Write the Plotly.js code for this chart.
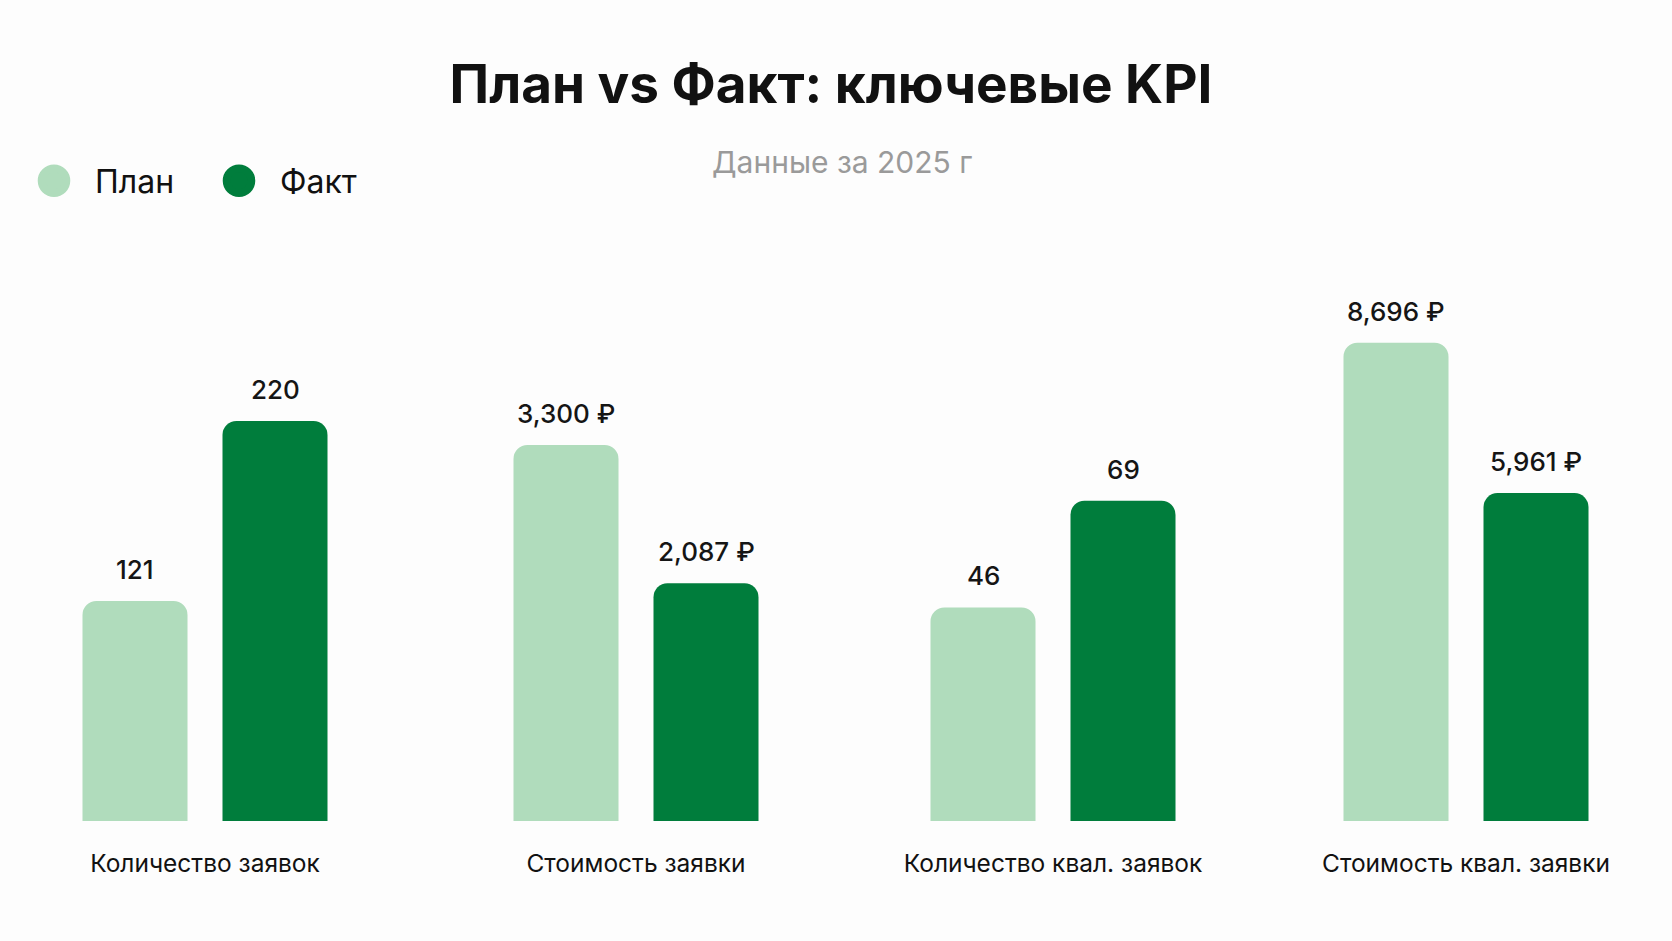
<!DOCTYPE html>
<html>
<head>
<meta charset="utf-8">
<script src="https://cdn.plot.ly/plotly-3.0.1.min.js"></script>
<style>
  html, body { margin: 0; padding: 0; background: #fdfdfd; }
  #chart { width: 1672px; height: 941px; }
</style>
</head>
<body>
<div id="chart"></div>
<script>
// données du graphique
var metrics = ['Количество заявок', 'Стоимость заявки', 'Количество квал. заявок', 'Стоимость квал. заявки'];
var planValues = [121, 3300, 46, 8696];
var factValues = [220, 2087, 69, 5961];
var valueSuffix = ['', ' ₽', '', ' ₽'];
var seriesNames = ['План', 'Факт'];

// style
var W = 1672;
var colors = ['#b0dcbc', '#007d3c'];
var fontFamily = 'Inter, "Noto Sans", sans-serif';
var groupCenters = [205, 636, 1053, 1466];   // px
var groupWidth = 280;                         // px
var yMax = [314, 5010, 123, 10380];           // échelle propre à chaque groupe

function fmt(v, suffix)
{
	return v.toLocaleString('en-US') + suffix;
}

var traces = [];
var annotations = [];
var layout = {
	width: 1672,
	height: 941,
	paper_bgcolor: '#fdfdfd',
	plot_bgcolor: '#fdfdfd',
	margin: {l: 0, r: 0, t: 250, b: 120},
	barmode: 'overlay',
	bargap: 0.25,
	showlegend: true,
	font: {family: fontFamily, color: '#111111'},
	title: {
		text: 'План vs Факт: ключевые KPI',
		font: {family: fontFamily, size: 53, weight: 700, color: '#111111'},
		x: 0.497, xanchor: 'center',
		y: 1 - 84/941, yanchor: 'middle', yref: 'container'
	},
	legend: {
		orientation: 'h',
		x: 13/W, xanchor: 'left',
		y: (821 - 181)/571, yanchor: 'middle',
		itemwidth: 72,
		entrywidth: 98,
		font: {family: fontFamily, size: 32, color: '#111111'},
		itemclick: false, itemdoubleclick: false,
		bgcolor: 'rgba(0,0,0,0)'
	}
};

for (var i = 0; i < metrics.length; i++)
{
	var sfx = i === 0 ? '' : String(i + 1);
	var xa = 'x' + sfx;
	var ya = 'y' + sfx;
	var values = [planValues[i], factValues[i]];

	for (var s = 0; s < 2; s++)
	{
		traces.push({
			type: 'bar',
			x: [seriesNames[s]],
			y: [values[s]],
			name: seriesNames[s],
			xaxis: xa,
			yaxis: ya,
			showlegend: false,
			marker: {color: colors[s], cornerradius: 14},
			hovertemplate: metrics[i] + '<br>' + seriesNames[s] + ': ' + fmt(values[s], valueSuffix[i]) + '<extra></extra>'
		});
		annotations.push({
			xref: xa, yref: ya,
			x: seriesNames[s], y: values[s],
			text: fmt(values[s], valueSuffix[i]),
			showarrow: false,
			yanchor: 'bottom',
			yshift: 14,
			font: {family: fontFamily, size: 26, weight: 500, color: '#151515'}
		});
	}

	var c = groupCenters[i];
	layout['xaxis' + sfx] = {
		domain: [(c - groupWidth/2)/W, (c + groupWidth/2)/W],
		anchor: ya,
		type: 'category',
		categoryarray: seriesNames,
		showticklabels: false,
		showgrid: false, zeroline: false, showline: false, ticks: '',
		fixedrange: true,
		title: {text: metrics[i], font: {family: fontFamily, size: 24.5, color: '#111111'}, standoff: 33}
	};
	layout['yaxis' + sfx] = {
		anchor: xa,
		range: [0, yMax[i]],
		visible: false,
		fixedrange: true
	};
}

// légende avec des pastilles rondes
for (var s = 0; s < 2; s++)
{
	traces.push({
		type: 'scatter',
		mode: 'markers',
		x: [null], y: [null],
		name: seriesNames[s],
		marker: {color: colors[s], size: 16, symbol: 'circle', line: {color: colors[s], width: 5}},
		hoverinfo: 'skip'
	});
}

// sous-titre
annotations.push({
	xref: 'paper', yref: 'paper',
	x: 842/W, y: (821 - 162)/571,
	xanchor: 'center', yanchor: 'middle',
	text: 'Данные за 2025 г',
	showarrow: false,
	font: {family: fontFamily, size: 30, color: '#9a9a9a'}
});

layout.annotations = annotations;

var gd = document.getElementById('chart');

// les pastilles de la légende sont plafonnées à 16px : on les agrandit
function agrandirPastilles()
{
	var pts = gd.querySelectorAll('.legend path.scatterpts');
	for (var k = 0; k < pts.length; k++)
	{
		var t = pts[k].getAttribute('transform') || '';
		if (t.indexOf('scale') < 0) pts[k].setAttribute('transform', t + ' scale(1.55)');
	}
}

Plotly.newPlot(gd, traces, layout, {displayModeBar: false, responsive: false}).then(function() {
	agrandirPastilles();
	gd.on('plotly_afterplot', agrandirPastilles);
});
</script>
</body>
</html>
